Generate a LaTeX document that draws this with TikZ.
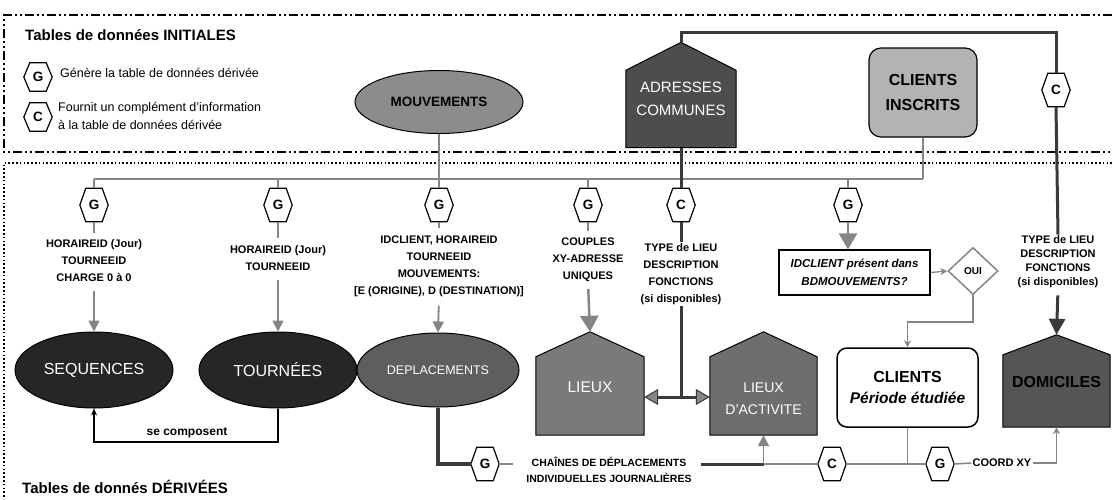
\documentclass[tikz,border=0pt]{standalone}
\usepackage{fontspec}
\setmainfont{Liberation Sans}
\usetikzlibrary{shapes.geometric,arrows.meta,calc}
\pgfdeclarelayer{bg}
\pgfsetlayers{bg,main}
\definecolor{cMouv}{HTML}{8C8C8C}
\definecolor{cAdr}{HTML}{4D4D4D}
\definecolor{cCli}{HTML}{B3B3B3}
\definecolor{cSeq}{HTML}{262626}
\definecolor{cDepl}{HTML}{5E5E5E}
\definecolor{cLieux}{HTML}{7A7A7A}
\definecolor{cLact}{HTML}{6E6E6E}
\definecolor{cDom}{HTML}{555555}
\definecolor{cLine}{HTML}{858585}
\definecolor{cDark}{HTML}{3A3A3A}
\newcommand\housepath[3]{\draw[line width=1pt,fill=#3] (#1.south west) -- ([yshift=-#2]#1.north west) -- (#1.north) -- ([yshift=-#2]#1.north east) -- (#1.south east) -- cycle;}
\newcommand\hexpath[1]{\draw[line width=1.2pt,fill=white] (#1.west) -- ([xshift=6pt]#1.north west) -- ([xshift=-6pt]#1.north east) -- (#1.east) -- ([xshift=-6pt]#1.south east) -- ([xshift=6pt]#1.south west) -- cycle;}
\begin{document}
\begin{tikzpicture}[x=1pt,y=-1pt,
  lab/.style={align=center,font=\fontsize{11}{17}\selectfont\bfseries,inner sep=1pt},
  labt/.style={align=center,font=\fontsize{11}{14}\selectfont\bfseries,inner sep=1pt},
  hexa/.style={rectangle,minimum width=28pt,minimum height=33pt,inner sep=0pt,font=\fontsize{13.5}{13.5}\selectfont\bfseries},
  hexs/.style={hexa,minimum height=28pt},
  house/.style={rectangle,inner sep=0pt},
  glink/.style={draw=cLine,line width=2.5pt},
  thinlink/.style={draw=cLine,line width=1.5pt},
  darklink/.style={draw=cDark,line width=3pt},
  garrow/.style={draw=cLine,line width=1.8pt,-{Triangle[length=11pt,width=11pt,fill=cLine]}},
  bigarrow/.style={draw=cLine,line width=2.5pt,-{Triangle[length=16pt,width=18pt,fill=cLine]}},
  darrow/.style={draw=cDark,line width=3pt,-{Triangle[length=16pt,width=16pt,fill=cDark]}},
  smallarrow/.style={draw=cLine,line width=1.3pt,-{Stealth[length=7pt,width=7pt]}},
  blackarrow/.style={draw=black,line width=1.2pt,-{Stealth[length=7pt,width=6pt]}},
  dbl/.style={draw=cDark,line width=3pt,{Triangle[length=14pt,width=16pt,fill=cLine,line width=1pt]}-{Triangle[length=14pt,width=16pt,fill=cLine,line width=1pt]}},
  dashdot/.style={line width=1.4pt,dash pattern=on 9pt off 3pt on 2pt off 3pt on 2pt off 3pt},
  dotframe/.style={line width=1.6pt,dash pattern=on 1.6pt off 2.2pt}]
\useasboundingbox (0,0) rectangle (1112,499);

% titles and legend
\node[anchor=west,font=\fontsize{15}{15}\selectfont\bfseries,inner sep=0pt] (t1) at (25,35) {Tables de données INITIALES};
\node[hexs] (lg) at (38,77) {G};
\node[anchor=west,font=\fontsize{12.5}{14}\selectfont,inner sep=0pt] (lgt) at (60,73) {Génère la table de données dérivée};
\node[hexs] (lc) at (38,117) {C};
\node[anchor=west,align=left,font=\fontsize{12.5}{18}\selectfont,inner sep=0pt] (lct) at (58,116) {Fournit un complément d'information\\à la table de données dérivée};
\node[anchor=west,font=\fontsize{15}{15}\selectfont\bfseries,inner sep=0pt] (t2) at (22,487) {Tables de donnés DÉRIVÉES};

% initial tables
\node[ellipse,draw,line width=1pt,fill=cMouv,minimum width=168pt,minimum height=63pt,font=\fontsize{13.5}{14}\selectfont\bfseries] (mouv) at (439,102) {MOUVEMENTS};
\node[house,minimum width=110pt,minimum height=105pt,label={[text=white,align=center,font=\fontsize{15}{23}\selectfont,yshift=-3.5pt]center:ADRESSES\\COMMUNES}] (adr) at (681,95) {};
\node[rectangle,rounded corners=12pt,draw,line width=1.2pt,fill=cCli,minimum width=108pt,minimum height=89pt,align=center,font=\fontsize{16}{25}\selectfont\bfseries] (cli) at (923,92.5) {CLIENTS\\INSCRITS};
\node[hexa] (ctop) at (1056,90) {C};

% bus and drops
\coordinate (busL) at (94,179);
\coordinate (busR) at (923,179);
\coordinate (topR) at (1056,32);
\node[hexa] (g1) at (94,205) {G};
\node[hexa] (g2) at (278,205) {G};
\node[hexa] (g3) at (439,205) {G};
\node[hexa] (g4) at (588,205) {G};
\node[hexa] (c5) at (681,205) {C};
\node[hexa] (g6) at (848,205) {G};

\node[lab] (l1) at (94,261) {HORAIREID (Jour)\\TOURNEEID\\CHARGE 0 à 0};
\node[lab] (l2) at (278,258) {HORAIREID (Jour)\\TOURNEEID};
\node[lab] (l3) at (439,266) {IDCLIENT, HORAIREID\\TOURNEEID\\MOUVEMENTS:\\{[}E (ORIGINE), D (DESTINATION)]};
\node[lab] (l4) at (588,260) {COUPLES\\XY-ADRESSE\\UNIQUES};
\node[lab] (l5) at (681,274) {TYPE de LIEU\\DESCRIPTION\\FONCTIONS\\(si disponibles)};
\node[labt] (l6) at (1058,262) {TYPE de LIEU\\DESCRIPTION\\FONCTIONS\\(si disponibles)};

\node[rectangle,draw,line width=1.2pt,fill=white,minimum width=151pt,minimum height=45pt,align=center,font=\fontsize{11.5}{18}\selectfont\bfseries\itshape] (q) at (854.5,272.5) {IDCLIENT présent dans\\BDMOUVEMENTS?};
\node[diamond,draw=cLine,line width=1.5pt,fill=white,minimum width=50pt,minimum height=47pt,inner sep=0pt,font=\fontsize{10}{10}\selectfont\bfseries] (oui) at (973,271) {OUI};

% derived tables
\node[ellipse,draw,line width=1pt,fill=cSeq,minimum width=158pt,minimum height=76pt,text=white,font=\fontsize{16}{16}\selectfont] (seq) at (94,370) {SEQUENCES};
\node[ellipse,draw,line width=1pt,fill=cSeq,minimum width=158pt,minimum height=76pt,text=white,font=\fontsize{16}{16}\selectfont] (tour) at (278,370) {TOURNÉES};
\node[ellipse,draw,line width=1pt,fill=cDepl,minimum width=162pt,minimum height=74pt,text=white,font=\fontsize{12.5}{13}\selectfont] (depl) at (438,370) {DEPLACEMENTS};
\node[house,minimum width=108pt,minimum height=103pt,label={[text=white,font=\fontsize{15.5}{16}\selectfont,yshift=-3.5pt]center:LIEUX}] (lieux) at (590,383.5) {};
\node[house,minimum width=107pt,minimum height=103pt,label={[text=white,align=center,font=\fontsize{14}{22}\selectfont,yshift=-15.5pt]center:LIEUX\\D'ACTIVITE}] (lact) at (763.5,383.5) {};
\node[rectangle,rounded corners=10pt,draw,line width=1.5pt,fill=white,minimum width=141pt,minimum height=79pt,align=center,font=\fontsize{16}{21}\selectfont\bfseries] (clients) at (907.5,387.5) {CLIENTS\\{\fontsize{15.5}{16}\selectfont\itshape Période étudiée}};
\node[house,minimum width=107pt,minimum height=92pt,label={[font=\fontsize{16}{16}\selectfont\bfseries,yshift=-1pt]center:DOMICILES}] (dom) at (1056.5,381) {};

% bottom row
\node[hexa] (gB) at (485,464) {G};
\node[lab,font=\fontsize{10.5}{16}\selectfont\bfseries] (chains) at (609,470) {CHAÎNES DE DÉPLACEMENTS\\INDIVIDUELLES JOURNALIÈRES};
\node[hexa] (cB) at (832,464) {C};
\node[hexa] (gB2) at (940,464) {G};
\node[lab] (coord) at (1002,463) {COORD XY};
\node[font=\fontsize{12}{12}\selectfont\bfseries,inner sep=1pt] (cmp) at (187,433) {se composent};

\coordinate (dblY) at (0,397);
\coordinate (cmpY) at (0,442);
\coordinate (turnY) at (0,322);

% background shapes
\begin{pgfonlayer}{bg}
\draw[dashdot] (1112,15) -- (4,15) -- (4,152) -- (1112,152);
\draw[dotframe] (1112,163) -- (4,163) -- (4,499);
\housepath{adr}{28pt}{cAdr}
\housepath{lieux}{25pt}{cLieux}
\housepath{lact}{25pt}{cLact}
\housepath{dom}{20pt}{cDom}
\foreach \h in {lg,lc,ctop,g1,g2,g3,g4,c5,g6,gB,cB,gB2} {\hexpath{\h}}
\end{pgfonlayer}

% connectors
\draw[glink] (mouv.south) -- (mouv.south |- busL);
\draw[glink] (busL) -- (busR);
\draw[thinlink] (cli.south) -- (busR);
\foreach \g in {g1,g2,g3,g4,g6} \draw[glink] (\g.north) -- (\g.north |- busL);
\draw[darklink] (adr.north) -- (adr.north |- topR) -- (topR) -- (ctop.north);
\draw[darklink] (ctop.south) -- (l6.north);
\draw[darklink] (adr.south) -- (c5.north);
\draw[darklink] (c5.south) -- (l5.north);
\draw[darklink] (l5.south) -- (l5.south |- dblY);
\draw[dbl] (lieux.east |- dblY) -- (lact.west |- dblY);

\foreach \g/\l in {g1/l1,g2/l2,g3/l3,g4/l4} \draw[thinlink,shorten >=6pt] (\g.south) -- (\l.north);
\draw[garrow,shorten <=8pt] (l1.south) -- (seq.north);
\draw[garrow,shorten <=8pt] (l2.south) -- (tour.north);
\draw[garrow,shorten <=8pt] (l3.south) -- (depl.north);
\draw[bigarrow,shorten <=6pt] (l4.south) -- (lieux.north);
\draw[darrow,shorten <=6pt] (l6.south) -- (dom.north);
\draw[bigarrow] (g6.south) -- (g6.south |- q.north);
\draw[smallarrow] (q.east) -- (oui.west);
\draw[smallarrow] (oui.south) -- (oui.south |- turnY) -| (clients.north);

\draw[blackarrow] (tour.south) -- (tour.south |- cmpY) -| (seq.south);
\draw[draw=cDark,line width=4pt] (depl.south) |- (gB.west);
\draw[thinlink,shorten >=12pt] (gB.east) -- (gB.east -| chains.west);
\draw[darklink,shorten <=8pt] (chains.east |- gB) -- (lact.south |- gB);
\draw[glink] (cB.west) -- (lact.south |- cB);
\draw[garrow] (lact.south |- cB) -- (lact.south);
\draw[glink] (cB.east) -- (gB2.west);
\draw[thinlink] (clients.south) -- (clients.south |- gB2);
\draw[thinlink] (gB2.east) -- (coord.west);
\draw[smallarrow] (coord.east) -| (dom.south);
\end{tikzpicture}
\end{document}
